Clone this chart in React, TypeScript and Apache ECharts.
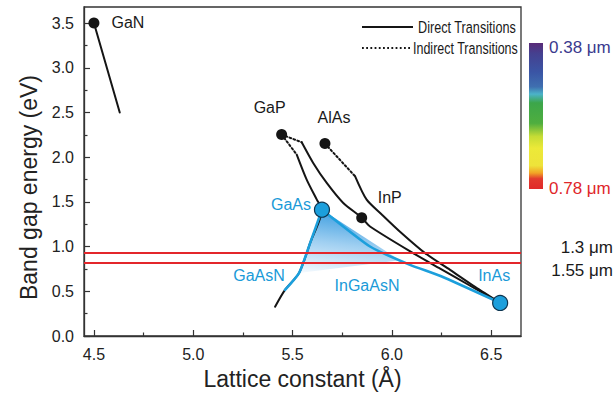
import React, { useEffect, useRef } from "react";
import * as echarts from "echarts";

// ---------- axis ticks ----------
const xTicks = [4.5, 5.0, 5.5, 6.0, 6.5];
const xMinorTicks = [4.75, 5.25, 5.75, 6.25];
const yTicks = [0, 0.5, 1.0, 1.5, 2.0, 2.5, 3.0, 3.5];
const yMinorTicks = [0.25, 0.75, 1.25, 1.75, 2.25, 2.75, 3.25];

// ---------- binary compounds (black dots) ----------
const binaryNames = ["GaN", "GaP", "AlAs", "InP"];
const binaryLattice = [4.5, 5.445, 5.663, 5.848];
const binaryGap = [3.5, 2.253, 2.152, 1.323];

// ---------- GaAs / InAs (blue dots) ----------
const blueNames = ["GaAs", "InAs"];
const blueLattice = [5.648, 6.545];
const blueGap = [1.413, 0.37];

// ---------- curves ----------
const ganDirect = [[4.5, 3.5], [4.63, 2.5]];

const gapInpIndirect = [[5.445, 2.253], [5.546, 2.167]];
const gapInpInasDirect = [
  [5.546, 2.167], [5.603, 1.939], [5.672, 1.712], [5.754, 1.491], [5.848, 1.323],
  [5.89, 1.225], [6.107, 0.927], [6.243, 0.754], [6.394, 0.562], [6.545, 0.37],
];

const alasIndirect = [[5.663, 2.152], [5.815, 1.786]];
const alasInasDirect = [
  [5.815, 1.786], [5.873, 1.525], [5.95, 1.357], [6.041, 1.166], [6.167, 0.927],
  [6.293, 0.74], [6.419, 0.549], [6.545, 0.37],
];

const gapGaasIndirect = [[5.445, 2.253], [5.521, 2.029]];
const gapGaasGaasnDirect = [
  [5.521, 2.029], [5.571, 1.749], [5.622, 1.525], [5.648, 1.413],
  [5.59, 1.05], [5.533, 0.706], [5.462, 0.516], [5.412, 0.328],
];

const ingaasBlue = [[5.648, 1.413], [5.89, 1.001], [6.091, 0.796], [6.251, 0.665], [6.545, 0.37]];
const gaasnBlue = [[5.648, 1.413], [5.59, 1.05], [5.533, 0.706], [5.462, 0.516]];

const ingaasnRegion = [[5.648, 1.413], [5.533, 0.706], [6.041, 0.846]];

// ---------- telecom wavelengths ----------
const telecomGap = [0.93, 0.82];
const telecomLabels = ["1.3 μm", "1.55 μm"];

// ---------- colour bar ----------
const colorBarLabels = ["0.38 μm", "0.78 μm"];

const FONT = '"Liberation Sans", Arial, Helvetica, sans-serif';
const BLUE = "#1c9fdc";
const BLUE_TEXT = "#1a9ad8";

const binaryLabelOffset: Record<string, number[]> = {
  GaN: [34, -1],
  GaP: [-12, -27],
  AlAs: [9, -26],
  InP: [28, -20],
};
const blueLabelOffset: Record<string, number[]> = {
  GaAs: [-31, -5],
  InAs: [-6, -27],
};

function lineSeries(name: string, data: number[][], opts: any = {}) {
  return {
    type: "line",
    name,
    data,
    symbol: "none",
    smooth: opts.smooth ?? 0.25,
    z: opts.z ?? 3,
    silent: true,
    lineStyle: {
      color: opts.color ?? "#151515",
      width: opts.width ?? 2,
      type: opts.type ?? "solid",
      cap: "round",
      opacity: 1,
    },
  };
}

export default function App() {
  const ref = useRef<HTMLDivElement>(null);

  useEffect(() => {
    if (!ref.current) return;
    const chart = echarts.init(ref.current, undefined, { renderer: "svg" });

    const option: any = {
      animation: false,
      backgroundColor: "#ffffff",
      textStyle: { fontFamily: FONT },
      grid: {
        left: 84,
        right: 94,
        top: 7,
        bottom: 69,
        show: true,
        borderColor: "#333",
        borderWidth: 1.3,
        backgroundColor: "transparent",
      },
      xAxis: [
        {
          type: "value",
          min: 4.45,
          max: 6.65,
          position: "bottom",
          name: "Lattice constant (Å)",
          nameLocation: "middle",
          nameGap: 31,
          nameTextStyle: { fontSize: 23, color: "#222", fontFamily: FONT },
          axisLine: { show: true, lineStyle: { color: "#333", width: 1.3 } },
          axisTick: { show: true, inside: true, length: 6, customValues: xTicks, lineStyle: { color: "#333", width: 1.2 } },
          axisLabel: {
            customValues: xTicks,
            formatter: (v: number) => v.toFixed(1),
            margin: 10,
            fontSize: 16,
            color: "#222",
            fontFamily: FONT,
          },
          splitLine: { show: false },
        },
        {
          type: "value",
          min: 4.45,
          max: 6.65,
          position: "bottom",
          axisLine: { show: false },
          axisTick: { show: true, inside: true, length: 3.5, customValues: xMinorTicks, lineStyle: { color: "#333", width: 1.2 } },
          axisLabel: { show: false },
          splitLine: { show: false },
        },
      ],
      yAxis: [
        {
          type: "value",
          min: 0,
          max: 3.68,
          position: "left",
          name: "Band gap energy (eV)",
          nameLocation: "middle",
          nameGap: 42,
          nameTextStyle: { fontSize: 23, color: "#222", fontFamily: FONT, padding: [0, 32, 0, 0] },
          axisLine: { show: true, lineStyle: { color: "#333", width: 1.3 } },
          axisTick: { show: true, inside: true, length: 6, customValues: yTicks, lineStyle: { color: "#333", width: 1.2 } },
          axisLabel: {
            customValues: yTicks,
            formatter: (v: number) => v.toFixed(1),
            margin: 10,
            fontSize: 16,
            color: "#222",
            fontFamily: FONT,
          },
          splitLine: { show: false },
        },
        {
          type: "value",
          min: 0,
          max: 3.68,
          position: "left",
          axisLine: { show: false },
          axisTick: { show: true, inside: true, length: 3.5, customValues: yMinorTicks, lineStyle: { color: "#333", width: 1.2 } },
          axisLabel: { show: false },
          splitLine: { show: false },
        },
      ],
      series: [
        {
          type: "custom",
          name: "InGaAsN region",
          coordinateSystem: "cartesian2d",
          silent: true,
          z: 1,
          data: [ingaasnRegion[0]],
          renderItem: (params: any, api: any) => {
            const pts = ingaasnRegion.map((p) => api.coord(p));
            return {
              type: "polygon",
              shape: { points: pts },
              style: {
                fill: new echarts.graphic.LinearGradient(0.3, 0, 0.1, 1, [
                  { offset: 0, color: "#3b9de0" },
                  { offset: 0.5, color: "#9fcff1" },
                  { offset: 1, color: "#f3f9fe" },
                ]),
              },
            };
          },
        },
        lineSeries("GaN", ganDirect, { smooth: false }),
        lineSeries("GaP-InP indirect", gapInpIndirect, { smooth: false, type: [1.8, 2.4] }),
        lineSeries("GaP-InP-InAs", gapInpInasDirect),
        lineSeries("AlAs indirect", alasIndirect, { smooth: false, type: [1.8, 2.4] }),
        lineSeries("AlAs-InAs", alasInasDirect),
        lineSeries("GaP-GaAs indirect", gapGaasIndirect, { smooth: false, type: [1.8, 2.4] }),
        lineSeries("GaP-GaAs-GaAsN", gapGaasGaasnDirect),
        lineSeries("InGaAs", ingaasBlue, { color: BLUE, width: 2.6, smooth: 0.15, z: 4 }),
        lineSeries("GaAsN", gaasnBlue, { color: BLUE, width: 2.6, smooth: 0.2, z: 4 }),
        {
          type: "line",
          name: "telecom",
          data: [],
          z: 6,
          markLine: {
            silent: true,
            symbol: "none",
            label: { show: false },
            lineStyle: { color: "#e3262b", width: 2, type: "solid", opacity: 1 },
            data: telecomGap.map((v) => ({ yAxis: v })),
          },
        },
        {
          type: "scatter",
          name: "Binary",
          z: 7,
          symbolSize: 11,
          itemStyle: { color: "#151515", opacity: 1 },
          label: {
            show: true,
            position: "inside",
            formatter: "{b}",
            fontSize: 16,
            color: "#1a1a1a",
            opacity: 1,
            fontFamily: FONT,
          },
          data: binaryNames.map((n, i) => ({
            name: n,
            value: [binaryLattice[i], binaryGap[i]],
            label: { offset: binaryLabelOffset[n] },
          })),
        },
        {
          type: "scatter",
          name: "GaAs InAs",
          z: 8,
          symbolSize: 15,
          itemStyle: { color: BLUE, borderColor: "#0d3550", borderWidth: 1.2, opacity: 1 },
          label: {
            show: true,
            position: "inside",
            formatter: "{b}",
            fontSize: 16,
            color: BLUE_TEXT,
            opacity: 1,
            fontFamily: FONT,
          },
          data: blueNames.map((n, i) => ({
            name: n,
            value: [blueLattice[i], blueGap[i]],
            label: { offset: blueLabelOffset[n] },
          })),
        },
      ],
      graphic: [
        // legend
        { type: "line", shape: { x1: 362, y1: 27, x2: 413, y2: 27 }, style: { stroke: "#151515", lineWidth: 2 } },
        {
          type: "text",
          x: 418,
          y: 27,
          scaleX: 0.745,
          style: { text: "Direct Transitions", font: `17px ${FONT}`, fill: "#1a1a1a", verticalAlign: "middle", textVerticalAlign: "middle" },
        },
        { type: "line", shape: { x1: 362, y1: 48, x2: 412, y2: 48 }, style: { stroke: "#151515", lineWidth: 2, lineDash: [1.8, 2.4] } },
        {
          type: "text",
          x: 413,
          y: 48,
          scaleX: 0.735,
          style: { text: "Indirect Transitions", font: `17px ${FONT}`, fill: "#1a1a1a", verticalAlign: "middle", textVerticalAlign: "middle" },
        },
        // colour bar
        {
          type: "rect",
          shape: { x: 529, y: 43, width: 14, height: 146 },
          style: {
            fill: new echarts.graphic.LinearGradient(0, 0, 0, 1, [
              { offset: 0, color: "#5a2a78" },
              { offset: 0.07, color: "#45408f" },
              { offset: 0.2, color: "#3a55a5" },
              { offset: 0.3, color: "#3f6fb0" },
              { offset: 0.35, color: "#4bb3c9" },
              { offset: 0.41, color: "#3ca64a" },
              { offset: 0.55, color: "#4fae3f" },
              { offset: 0.64, color: "#c5dc35" },
              { offset: 0.72, color: "#ece938" },
              { offset: 0.84, color: "#eee33a" },
              { offset: 0.89, color: "#f2a425" },
              { offset: 0.93, color: "#e23a2e" },
              { offset: 1, color: "#e02a2a" },
            ]),
          },
        },
        {
          type: "text",
          x: 549,
          y: 47,
          style: { text: colorBarLabels[0], font: `17px ${FONT}`, fill: "#3b3a8e", verticalAlign: "middle", textVerticalAlign: "middle" },
        },
        {
          type: "text",
          x: 549,
          y: 188,
          style: { text: colorBarLabels[1], font: `17px ${FONT}`, fill: "#e0262a", verticalAlign: "middle", textVerticalAlign: "middle" },
        },
        {
          type: "text",
          x: 613,
          y: 247,
          style: { text: telecomLabels[0], font: `17px ${FONT}`, fill: "#1a1a1a", align: "right", textAlign: "right", verticalAlign: "middle", textVerticalAlign: "middle" },
        },
        {
          type: "text",
          x: 613,
          y: 270,
          style: { text: telecomLabels[1], font: `17px ${FONT}`, fill: "#1a1a1a", align: "right", textAlign: "right", verticalAlign: "middle", textVerticalAlign: "middle" },
        },
        // alloy labels
        {
          type: "text",
          x: 259,
          y: 275,
          style: { text: "GaAsN", font: `16px ${FONT}`, fill: BLUE_TEXT, align: "center", textAlign: "center", verticalAlign: "middle", textVerticalAlign: "middle" },
        },
        {
          type: "text",
          x: 367,
          y: 285,
          style: { text: "InGaAsN", font: `16px ${FONT}`, fill: BLUE_TEXT, align: "center", textAlign: "center", verticalAlign: "middle", textVerticalAlign: "middle" },
        },
      ],
    };

    chart.setOption(option);
    return () => chart.dispose();
  }, []);

  return <div ref={ref} style={{ position: "fixed", left: 0, top: 0, width: 615, height: 405 }} />;
}
